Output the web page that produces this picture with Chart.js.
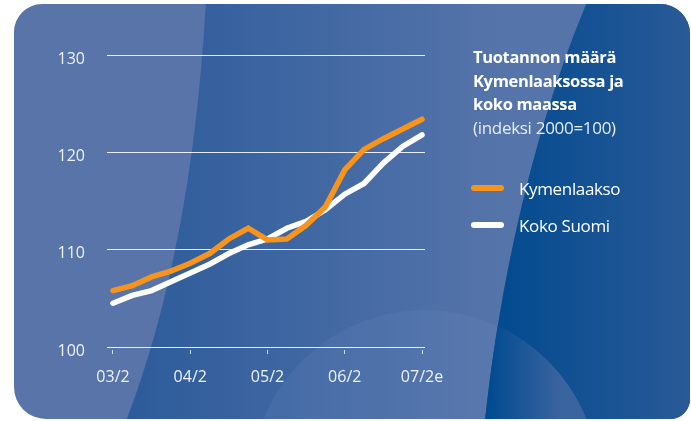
<!DOCTYPE html>
<html>
<head>
<meta charset="utf-8">
<script src="https://cdn.jsdelivr.net/npm/chart.js@4/dist/chart.umd.min.js"></script>
<style>
  html, body { margin: 0; padding: 0; background: #fff; }
  #wrap { position: relative; width: 691px; height: 421px; overflow: hidden; }
  #c { position: absolute; left: 0; top: 0; }
  #side { position: absolute; left: 473px; top: 45px; color: #fff; font-family: "Open Sans", sans-serif; }
  #side .t { font-weight: 700; font-size: 16.5px; line-height: 23.7px; white-space: nowrap; letter-spacing: -0.35px; }
  #side .s { font-weight: 400; font-size: 17px; line-height: 23.7px; white-space: nowrap; color: #e6ebf4; letter-spacing: -0.3px; }
  .leg { position: absolute; left: 471px; height: 22px; display: flex; align-items: center; font-family: "Open Sans", sans-serif; font-size: 17px; color: #fff; white-space: nowrap; letter-spacing: -0.35px; }
  .leg .sw { width: 33px; height: 6px; border-radius: 3px; margin-right: 15px; }
</style>
</head>
<body>
<div id="wrap">
  <canvas id="c" width="691" height="421"></canvas>
  <div id="side"></div>
  <div id="legend"></div>
</div>
<script>
// ---- data ----
const categories = ['03/2','03/3','03/4','04/1','04/2','04/3','04/4','05/1','05/2','05/3','05/4','06/1','06/2','06/3','06/4','07/1','07/2e'];
const tickLabels = ['03/2','04/2','05/2','06/2','07/2e'];
const tickIndexes = [0, 4, 8, 12, 16];
const kymenlaakso = [105.8,106.3,107.2,107.8,108.6,109.6,111.1,112.2,111.0,111.1,112.5,114.4,118.2,120.3,121.4,122.4,123.4];
const kokoSuomi  = [104.5,105.3,105.8,106.7,107.6,108.5,109.6,110.5,111.1,112.2,112.9,114.1,115.7,116.8,118.9,120.6,121.8];
const yTicks = [100, 110, 120, 130];
const seriesNames = ['Kymenlaakso', 'Koko Suomi'];
const seriesColors = ['#f7941d', '#ffffff'];
const titleLines = ['Tuotannon määrä', 'Kymenlaaksossa ja', 'koko maassa'];
const subtitle = '(indeksi 2000=100)';

// ---- side text & legend (HTML) ----
const side = document.getElementById('side');
titleLines.forEach(t => { const d = document.createElement('div'); d.className = 't'; d.textContent = t; side.appendChild(d); });
const sub = document.createElement('div'); sub.className = 's'; sub.textContent = subtitle; side.appendChild(sub);
const legTops = [177, 214];
const legend = document.getElementById('legend');
seriesNames.forEach((n, i) => {
  const d = document.createElement('div'); d.className = 'leg'; d.style.top = legTops[i] + 'px';
  const sw = document.createElement('span'); sw.className = 'sw'; sw.style.background = seriesColors[i];
  const tx = document.createElement('span'); tx.textContent = n;
  d.appendChild(sw); d.appendChild(tx); legend.appendChild(d);
});

// ---- background plugin ----
const bgPlugin = {
  id: 'bg',
  beforeDraw(chart) {
    const ctx = chart.ctx;
    ctx.save();
    ctx.fillStyle = '#ffffff';
    ctx.fillRect(0, 0, 691, 421);
    ctx.beginPath();
    ctx.roundRect(14, 4, 676, 415, [28, 30, 20, 32]);
    ctx.clip();
    ctx.fillStyle = '#5874a9';
    ctx.fillRect(0, 0, 691, 421);
    // middle region
    const mid = new Path2D();
    mid.moveTo(206, 0);
    mid.quadraticCurveTo(192, 250, 126, 421);
    mid.lineTo(691, 421); mid.lineTo(691, 0); mid.closePath();
    let g = ctx.createLinearGradient(140, 0, 500, 0);
    g.addColorStop(0, '#2e5c9b');
    g.addColorStop(1, '#5574aa');
    ctx.fillStyle = g; ctx.fill(mid);
    // bottom circle highlight
    ctx.save();
    ctx.clip(mid);
    ctx.beginPath(); ctx.arc(425, 484, 174, 0, Math.PI * 2);
    ctx.fillStyle = 'rgba(120,150,200,0.15)';
    ctx.fill();
    ctx.restore();
    // right region
    const right = new Path2D();
    right.moveTo(588, 0);
    right.bezierCurveTo(545, 100, 503, 250, 485, 421);
    right.lineTo(691, 421); right.lineTo(691, 0); right.closePath();
    g = ctx.createLinearGradient(490, 0, 691, 0);
    g.addColorStop(0, '#004a8f');
    g.addColorStop(1, '#2a5a97');
    ctx.fillStyle = g; ctx.fill(right);
    ctx.save();
    ctx.clip(right);
    ctx.beginPath(); ctx.arc(425, 484, 174, 0, Math.PI * 2);
    g = ctx.createLinearGradient(488, 0, 560, 0);
    g.addColorStop(0, '#004a8f');
    g.addColorStop(1, '#3a64a0');
    ctx.fillStyle = g; ctx.fill();
    ctx.restore();
    ctx.restore();
  }
};

const labelFont = { family: '"Open Sans", sans-serif', size: 16 };

new Chart(document.getElementById('c'), {
  type: 'line',
  data: {
    datasets: [
      { label: seriesNames[0], data: kymenlaakso.map((y, i) => ({ x: i, y })), borderColor: seriesColors[0], borderWidth: 5.5, pointRadius: 0, tension: 0, borderCapStyle: 'round', fill: false },
      { label: seriesNames[1], data: kokoSuomi.map((y, i) => ({ x: i, y })), borderColor: seriesColors[1], borderWidth: 5.5, pointRadius: 0, tension: 0, borderCapStyle: 'round', fill: false }
    ]
  },
  options: {
    responsive: false,
    animation: false,
    devicePixelRatio: 1,
    layout: { padding: { left: 0, right: 266, top: 55, bottom: 0 } },
    plugins: { legend: { display: false }, tooltip: { enabled: false }, title: { display: false } },
    scales: {
      x: {
        type: 'linear',
        min: -0.31, max: 16.155,
        afterBuildTicks(s) { s.ticks = tickIndexes.map(v => ({ value: v })); },
        afterFit(s) { s.height = 74; },
        border: { display: false },
        grid: { drawOnChartArea: false, drawTicks: true, tickLength: 7, tickBorderDash: [0, 3, 4, 100], tickColor: 'rgba(255,255,255,0.75)', tickWidth: 1 },
        ticks: {
          color: '#eef1f7', font: labelFont, padding: 14, maxRotation: 0, autoSkip: false,
          callback(v) { const k = tickIndexes.indexOf(v); return k >= 0 ? tickLabels[k] : ''; }
        }
      },
      y: {
        min: 100, max: 130,
        afterBuildTicks(s) { s.ticks = yTicks.map(v => ({ value: v })); },
        afterFit(s) { s.width = 107; },
        border: { display: false },
        grid: { color: 'rgba(255,255,255,0.88)', lineWidth: 1, drawTicks: false },
        ticks: { color: '#eef1f7', font: labelFont, padding: 22, labelOffset: 4 }
      }
    }
  },
  plugins: [bgPlugin]
});
</script>
</body>
</html>
